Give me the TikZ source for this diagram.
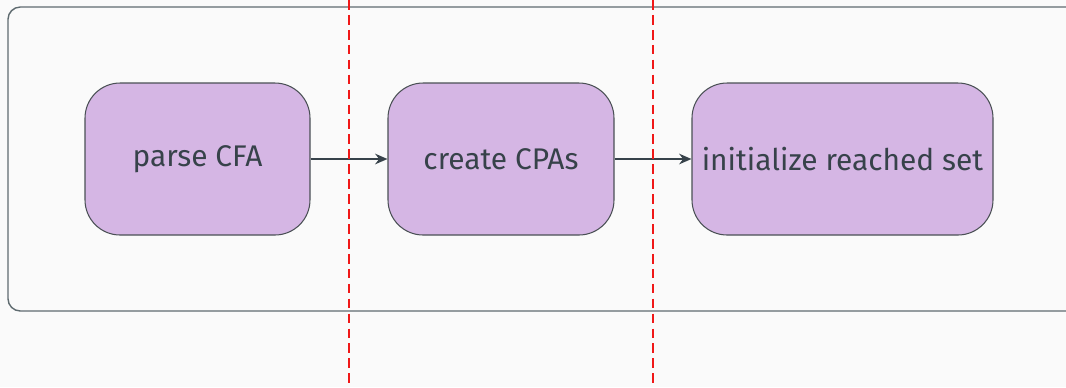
\documentclass[tikz,border=0pt]{standalone}
\usepackage{fontspec}
\setmainfont{Fira Sans}
\usetikzlibrary{arrows.meta}
\definecolor{bgcol}{HTML}{FAFAFA}
\definecolor{framecol}{HTML}{5F6B70}
\definecolor{stepfill}{HTML}{D5B6E4}
\definecolor{stepline}{HTML}{4A5055}
\definecolor{textcol}{HTML}{37424A}
\definecolor{cutcol}{HTML}{F01818}
\tikzset{
	stepbox/.style={draw=stepline, fill=stepfill, rounded corners=20pt, line width=0.6pt,
		minimum height=152*0.02cm, text=textcol, font=\fontsize{17}{20}\selectfont},
	flow/.style={draw=textcol, line width=1.3pt, -{Stealth[length=7pt,width=6pt]}},
	cut/.style={draw=cutcol, line width=1.2pt, dash pattern=on 5.5pt off 3pt}
}
\begin{document}
\begin{tikzpicture}[x=0.02cm, y=-0.02cm]
	\fill[bgcol] (0,0) rectangle (1066,387);
	\useasboundingbox (0,0) rectangle (1066,387);

	% rahmen
	\begin{scope}
		\clip (0,0) rectangle (1066,387);
		\draw[framecol, line width=0.8pt, rounded corners=7pt] (8,7) rectangle (1080,311);
	\end{scope}

	% schritte
	\node[stepbox, minimum width=225*0.02cm] (parse) at (197.5,159) {parse CFA};
	\node[stepbox, minimum width=226*0.02cm] (cpas) at (501,159) {create CPAs};
	\node[stepbox, minimum width=301*0.02cm] (reached) at (842.5,159) {initialize reached set};

	\draw[flow] (parse) -- (cpas);
	\draw[flow] (cpas) -- (reached);

	% trennlinien
	\draw[cut] (349,0) -- (349,387);
	\draw[cut] (653,0) -- (653,387);
\end{tikzpicture}
\end{document}
